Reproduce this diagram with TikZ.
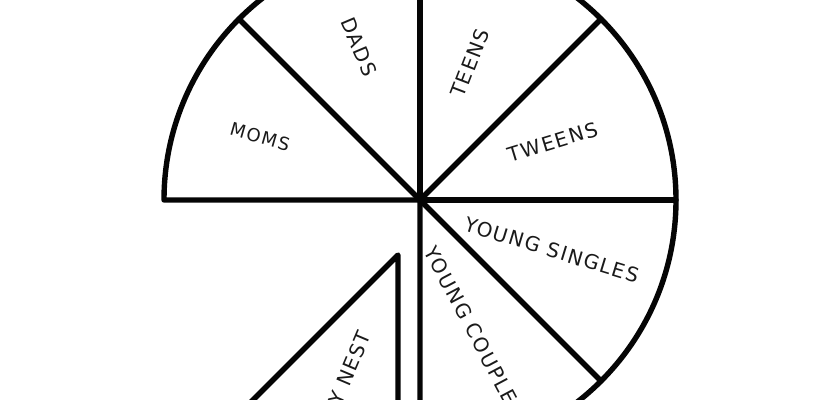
\documentclass[tikz,border=0pt]{standalone}
\usepackage{fontspec}
\setmainfont{DejaVu Sans}[LetterSpace=8]
\usetikzlibrary{calc}
\definecolor{ink}{HTML}{050505}
\definecolor{labelink}{HTML}{1A1A1A}
\tikzset{
wedge/.style={draw=ink,line width=2.7pt,line join=round,line cap=round},
tag/.style={font=\fontsize{10}{10}\selectfont,text=labelink,inner sep=0pt},
smalltag/.style={tag,font=\fontsize{9}{9}\selectfont}}

\begin{document}
\begin{tikzpicture}[x=.5pt,y=.5pt]
\useasboundingbox (0,0) rectangle (840,400);
\clip (0,0) rectangle (840,400);
\coordinate (hub) at (420,200);
\coordinate (tip) at (398,145);
% pie, lower left quarter taken out
\draw[wedge] (hub) -- ++(180:256) arc[start angle=180,end angle=-90,radius=256] -- cycle;
\foreach \a in {135,90,45,0,-45}
  \draw[wedge] (hub) -- ++(\a:256);
% the slice that is pulled away
\draw[wedge] (tip) -- ++(225:256) arc[start angle=225,end angle=270,radius=256] -- cycle;
\node[smalltag,rotate=-16] (moms) at (260,263) {MOMS};
\node[tag,rotate=-67] (dads) at (359,353) {DADS};
\node[tag,rotate=69] (teens) at (470,337) {TEENS};
\node[tag,rotate=17] (tweens) at (553,258) {TWEENS};
\node[tag,rotate=-17] (singles) at (552,150) {YOUNG SINGLES};
\node[tag,rotate=-62,anchor=west] (couples) at (430,152) {YOUNG COUPLES};
\node[tag,rotate=67,anchor=east] (nest) at (365,68) {EMPTY NEST};
\end{tikzpicture}
\end{document}
